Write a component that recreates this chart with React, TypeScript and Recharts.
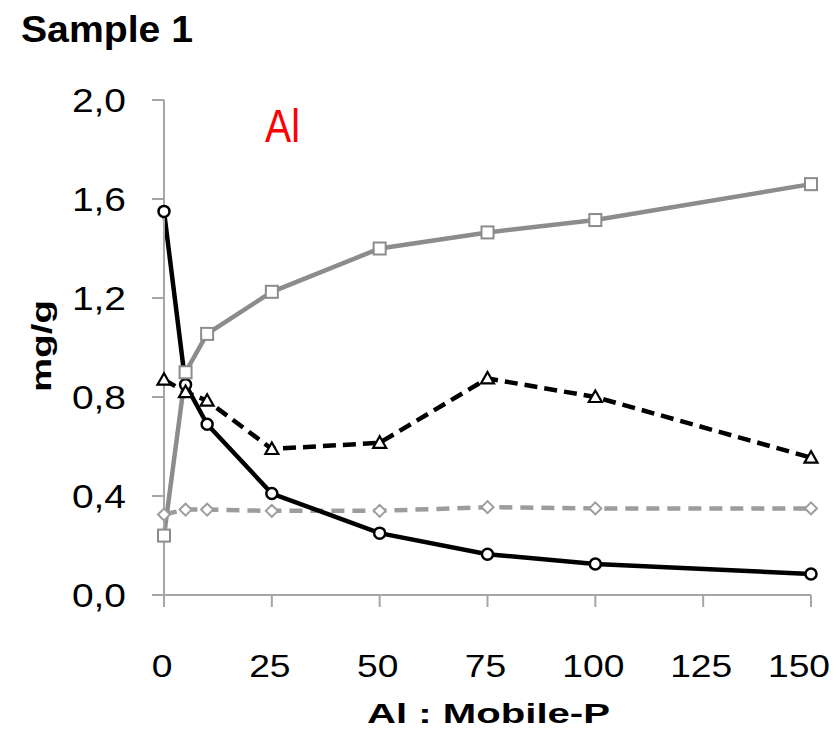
import React from "react";
import { LineChart, Line, XAxis, YAxis } from "recharts";

const xValues = [0, 5, 10, 25, 50, 75, 100, 150];
const circleSeries = [1.55, 0.85, 0.69, 0.41, 0.25, 0.165, 0.125, 0.085];
const squareSeries = [0.24, 0.9, 1.055, 1.225, 1.4, 1.465, 1.515, 1.66];
const triangleSeries = [0.87, 0.82, 0.785, 0.59, 0.615, 0.875, 0.8, 0.555];
const diamondSeries = [0.325, 0.345, 0.345, 0.34, 0.34, 0.355, 0.35, 0.35];
const xTicks = [0, 25, 50, 75, 100, 125, 150];
const yTicks = [0, 0.4, 0.8, 1.2, 1.6, 2.0];

const data = xValues.map((x, i) => ({
  x,
  circle: circleSeries[i],
  square: squareSeries[i],
  triangle: triangleSeries[i],
  diamond: diamondSeries[i],
}));

const FONT = "'Liberation Sans', Arial, sans-serif";
const AXIS_GRAY = "#a6a6a6";
const LINE_GRAY = "#8c8c8c";
const DIAMOND_GRAY = "#9c9c9c";

const XTick = (props: any) => {
  const { x, y, payload } = props;
  const shift = payload.value === 150 ? -12 : -2;
  return (
    <text
      transform={`translate(${x + shift},${y + 68}) scale(1.2,1)`}
      textAnchor="middle"
      fontSize={31}
      fontFamily={FONT}
      fill="#000"
    >
      {payload.value}
    </text>
  );
};

const YTick = (props: any) => {
  const { x, y, payload } = props;
  const label = Number(payload.value).toFixed(1).replace(".", ",");
  return (
    <text
      transform={`translate(${x - 24},${y + 12}) scale(1.18,1)`}
      textAnchor="end"
      fontSize={33}
      fontFamily={FONT}
      fill="#000"
    >
      {label}
    </text>
  );
};

const CircleDot = (p: any) => (
  <circle key={`c${p.index}`} cx={p.cx} cy={p.cy} r={5.5} fill="#fff" stroke="#000" strokeWidth={2.5} />
);
const SquareDot = (p: any) => (
  <rect key={`s${p.index}`} x={p.cx - 6} y={p.cy - 6} width={12} height={12} fill="#fff" stroke={LINE_GRAY} strokeWidth={2} />
);
const TriangleDot = (p: any) => (
  <polygon
    key={`t${p.index}`}
    points={`${p.cx},${p.cy - 6.5} ${p.cx + 6.5},${p.cy + 5} ${p.cx - 6.5},${p.cy + 5}`}
    fill="#fff"
    stroke="#000"
    strokeWidth={2.2}
  />
);
const DiamondDot = (p: any) => (
  <polygon
    key={`d${p.index}`}
    points={`${p.cx},${p.cy - 6} ${p.cx + 6},${p.cy} ${p.cx},${p.cy + 6} ${p.cx - 6},${p.cy}`}
    fill="#fff"
    stroke={DIAMOND_GRAY}
    strokeWidth={2}
  />
);

export default function App() {
  return (
    <div style={{ position: "absolute", left: 0, top: 0, width: 839, height: 729, background: "#fff" }}>
      <LineChart width={839} height={729} data={data} margin={{ top: 100, right: 28, bottom: 0, left: 0 }}>
        <XAxis
          dataKey="x"
          type="number"
          domain={[0, 150]}
          ticks={xTicks}
          height={134}
          tickSize={12}
          axisLine={{ stroke: AXIS_GRAY, strokeWidth: 2 }}
          tickLine={{ stroke: AXIS_GRAY, strokeWidth: 2 }}
          tick={<XTick />}
          interval={0}
        />
        <YAxis
          type="number"
          domain={[0, 2]}
          ticks={yTicks}
          width={164}
          tickSize={12}
          axisLine={{ stroke: AXIS_GRAY, strokeWidth: 2 }}
          tickLine={{ stroke: AXIS_GRAY, strokeWidth: 2 }}
          tick={<YTick />}
          interval={0}
        />
        <Line
          dataKey="diamond"
          stroke={DIAMOND_GRAY}
          strokeWidth={4.5}
          strokeDasharray="13 8"
          dot={DiamondDot}
          activeDot={false}
          isAnimationActive={false}
        />
        <Line
          dataKey="circle"
          stroke="#000"
          strokeWidth={4.5}
          dot={CircleDot}
          activeDot={false}
          isAnimationActive={false}
        />
        <Line
          dataKey="triangle"
          stroke="#000"
          strokeWidth={4.5}
          strokeDasharray="13 7"
          dot={TriangleDot}
          activeDot={false}
          isAnimationActive={false}
        />
        <Line
          dataKey="square"
          stroke={LINE_GRAY}
          strokeWidth={4.5}
          dot={SquareDot}
          activeDot={false}
          isAnimationActive={false}
        />
      </LineChart>
      <svg
        width={839}
        height={729}
        style={{ position: "absolute", left: 0, top: 0, pointerEvents: "none" }}
      >
        <text x={21} y={42} fontSize={37} fontWeight="bold" fontFamily={FONT} fill="#000" textLength={172} lengthAdjust="spacingAndGlyphs">
          Sample 1
        </text>
        <text x={265} y={142} fontSize={47} fontFamily={FONT} fill="#ff0000" textLength={35} lengthAdjust="spacingAndGlyphs">
          Al
        </text>
        <text x={367} y={723} fontSize={27} fontWeight="bold" fontFamily={FONT} fill="#000" textLength={243} lengthAdjust="spacingAndGlyphs">
          Al : Mobile-P
        </text>
        <text
          transform="translate(51,392) rotate(-90)"
          x={0}
          y={0}
          fontSize={28}
          fontWeight="bold"
          fontFamily={FONT}
          fill="#000"
          textLength={92}
          lengthAdjust="spacingAndGlyphs"
        >
          mg/g
        </text>
      </svg>
    </div>
  );
}
